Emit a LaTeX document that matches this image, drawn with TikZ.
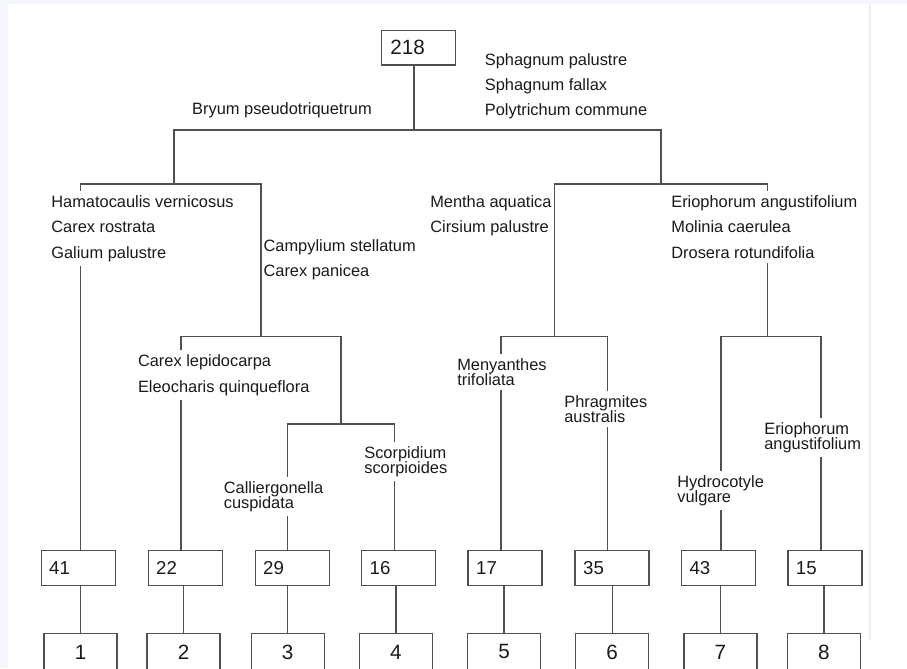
\documentclass[tikz,border=0pt]{standalone}
\usepackage{fontspec}
\setmainfont{Liberation Sans}
\definecolor{linec}{HTML}{505050}
\definecolor{txt}{HTML}{1A1A1A}
\definecolor{strip}{HTML}{F3F6FA}
\definecolor{faint}{HTML}{EEEEEE}
\newcommand\mytightfont{\fontsize{12.3}{10.9}\selectfont\lineskiplimit=-20pt\relax}
\begin{document}
\begin{tikzpicture}[x=0.75pt,y=-0.75pt,
  conn/.style={draw=linec,line width=1.1pt},
  rootbox/.style={draw=linec,line width=1.1pt,rectangle,anchor=north west,
    minimum height=25.7pt,inner xsep=6.75pt,inner ysep=0pt,text width=42pt,align=left,
    font=\fontsize{15.5}{17}\selectfont,text=txt},
  numbox/.style={draw=linec,line width=1.1pt,rectangle,anchor=north west,
    minimum height=26.25pt,inner xsep=6pt,inner ysep=0pt,text width=43.5pt,align=left,
    font=\fontsize{14}{16}\selectfont,text=txt},
  leafbox/.style={draw=linec,line width=1.1pt,rectangle,anchor=north west,
    minimum height=27.75pt,minimum width=54.75pt,inner sep=0pt,align=center,
    font=\fontsize{15.5}{17}\selectfont,text=txt},
  wide/.style={anchor=base west,align=left,inner xsep=0.8pt,inner ysep=3.5pt,text=txt,
    font=\fontsize{12.3}{19.1}\selectfont},
  tight/.style={anchor=base west,align=left,inner xsep=0.8pt,inner ysep=3.5pt,text=txt,
    font=\mytightfont},
  cover/.style={fill=white}
]
% background
\fill[strip] (0,0) rectangle (907,668);
\fill[white] (8,4) rectangle (907,668);
\draw[faint,line width=1.4pt] (870,5) -- (870,640);
\useasboundingbox (0,0) rectangle (907,668);

% boxes
\node[rootbox] (b218) at (380.6,30) {218};
\node[numbox] (t41) at (40.5,550) {41};
\node[numbox] (t22) at (147.5,550) {22};
\node[numbox] (t29) at (254.5,550) {29};
\node[numbox] (t16) at (361,550) {16};
\node[numbox] (t17) at (467.4,550) {17};
\node[numbox] (t35) at (574.4,550) {35};
\node[numbox] (t43) at (680.8,550) {43};
\node[numbox] (t15) at (787.2,550) {15};

\node[leafbox] (l1) at (43.4,632.7) {1};
\node[leafbox] (l2) at (146.3,632.7) {2};
\node[leafbox] (l3) at (250.5,632.7) {3};
\node[leafbox] (l4) at (358.6,632.7) {4};
\node[leafbox] (l5) at (466.8,632.7) {5};
\node[leafbox] (l6) at (575,632.7) {6};
\node[leafbox] (l7) at (683.1,632.7) {7};
\node[leafbox] (l8) at (786.7,632.7) {8};

% junction coordinates
\coordinate (r0) at (414.2,130);
\coordinate (a1) at (174,130);
\coordinate (a2) at (661,130);
\coordinate (b) at (174,184);
\coordinate (b1) at (80.7,184);
\coordinate (b2) at (261,184);
\coordinate (c) at (261,336.7);
\coordinate (c1) at (181,336.7);
\coordinate (c2) at (341,336.7);
\coordinate (d) at (341,424);
\coordinate (d1) at (287.7,424);
\coordinate (d2) at (394.3,424);
\coordinate (e) at (661,184);
\coordinate (e1) at (554.3,184);
\coordinate (e2) at (767.7,184);
\coordinate (f) at (554.3,336.7);
\coordinate (f1) at (501,336.7);
\coordinate (f2) at (607.7,336.7);
\coordinate (g) at (767.7,336.7);
\coordinate (g1) at (721,336.7);
\coordinate (g2) at (821,336.7);

% connectors
\draw[conn] (b218.south -| r0) -- (r0);
\draw[conn] (b) -- (a1) -- (a2) -- (e);
\draw[conn] (t41.north -| b1) -- (b1) -- (b2) -- (c);
\draw[conn] (t22.north -| c1) -- (c1) -- (c2) -- (d);
\draw[conn] (t29.north -| d1) -- (d1) -- (d2) -- (t16.north -| d2);
\draw[conn] (e1) -- (e2);
\draw[conn] (e1) -- (f);
\draw[conn] (e2) -- (g);
\draw[conn] (t17.north -| f1) -- (f1) -- (f2) -- (t35.north -| f2);
\draw[conn] (t43.north -| g1) -- (g1) -- (g2) -- (t15.north -| g2);

\foreach \u/\l in {t41/l1,t22/l2,t29/l3,t16/l4,t17/l5,t35/l6,t43/l7,t15/l8}
  \draw[conn] (\l.north |- \u.south) -- (\l.north);

% labels (anchor = baseline of the last line)
\node[wide,font=\fontsize{12.3}{18.75}\selectfont] (sph) at (483.6,115.3) {Sphagnum palustre\\Sphagnum fallax\\Polytrichum commune};
\node[wide] (bry) at (190.9,114.3) {Bryum pseudotriquetrum};
\node[wide,cover] (ham) at (50,258.3) {Hamatocaulis vernicosus\\Carex rostrata\\Galium palustre};
\node[wide,inner xsep=0pt] (cam) at (263.3,276.7) {Campylium stellatum\\Carex panicea};
\node[wide,inner xsep=0pt] (men) at (430,232.7) {Mentha aquatica\\Cirsium palustre};
\node[wide,cover] (eri) at (670,258.3) {Eriophorum angustifolium\\Molinia caerulea\\Drosera rotundifolia};
\node[wide,cover] (car) at (136.7,392.3) {Carex lepidocarpa\\Eleocharis quinqueflora};
\node[tight,cover] (cal) at (222.5,508) {Calliergonella\\cuspidata};
\node[tight,cover] (sco) at (363,473) {Scorpidium\\scorpioides};
\node[tight,cover] (mny) at (456,385) {Menyanthes\\trifoliata};
\node[tight,cover] (phr) at (563,422) {Phragmites\\australis};
\node[tight,cover] (hyd) at (676,502) {Hydrocotyle\\vulgare};
\node[tight,cover] (er2) at (763,449) {Eriophorum\\angustifolium};
\end{tikzpicture}
\end{document}
